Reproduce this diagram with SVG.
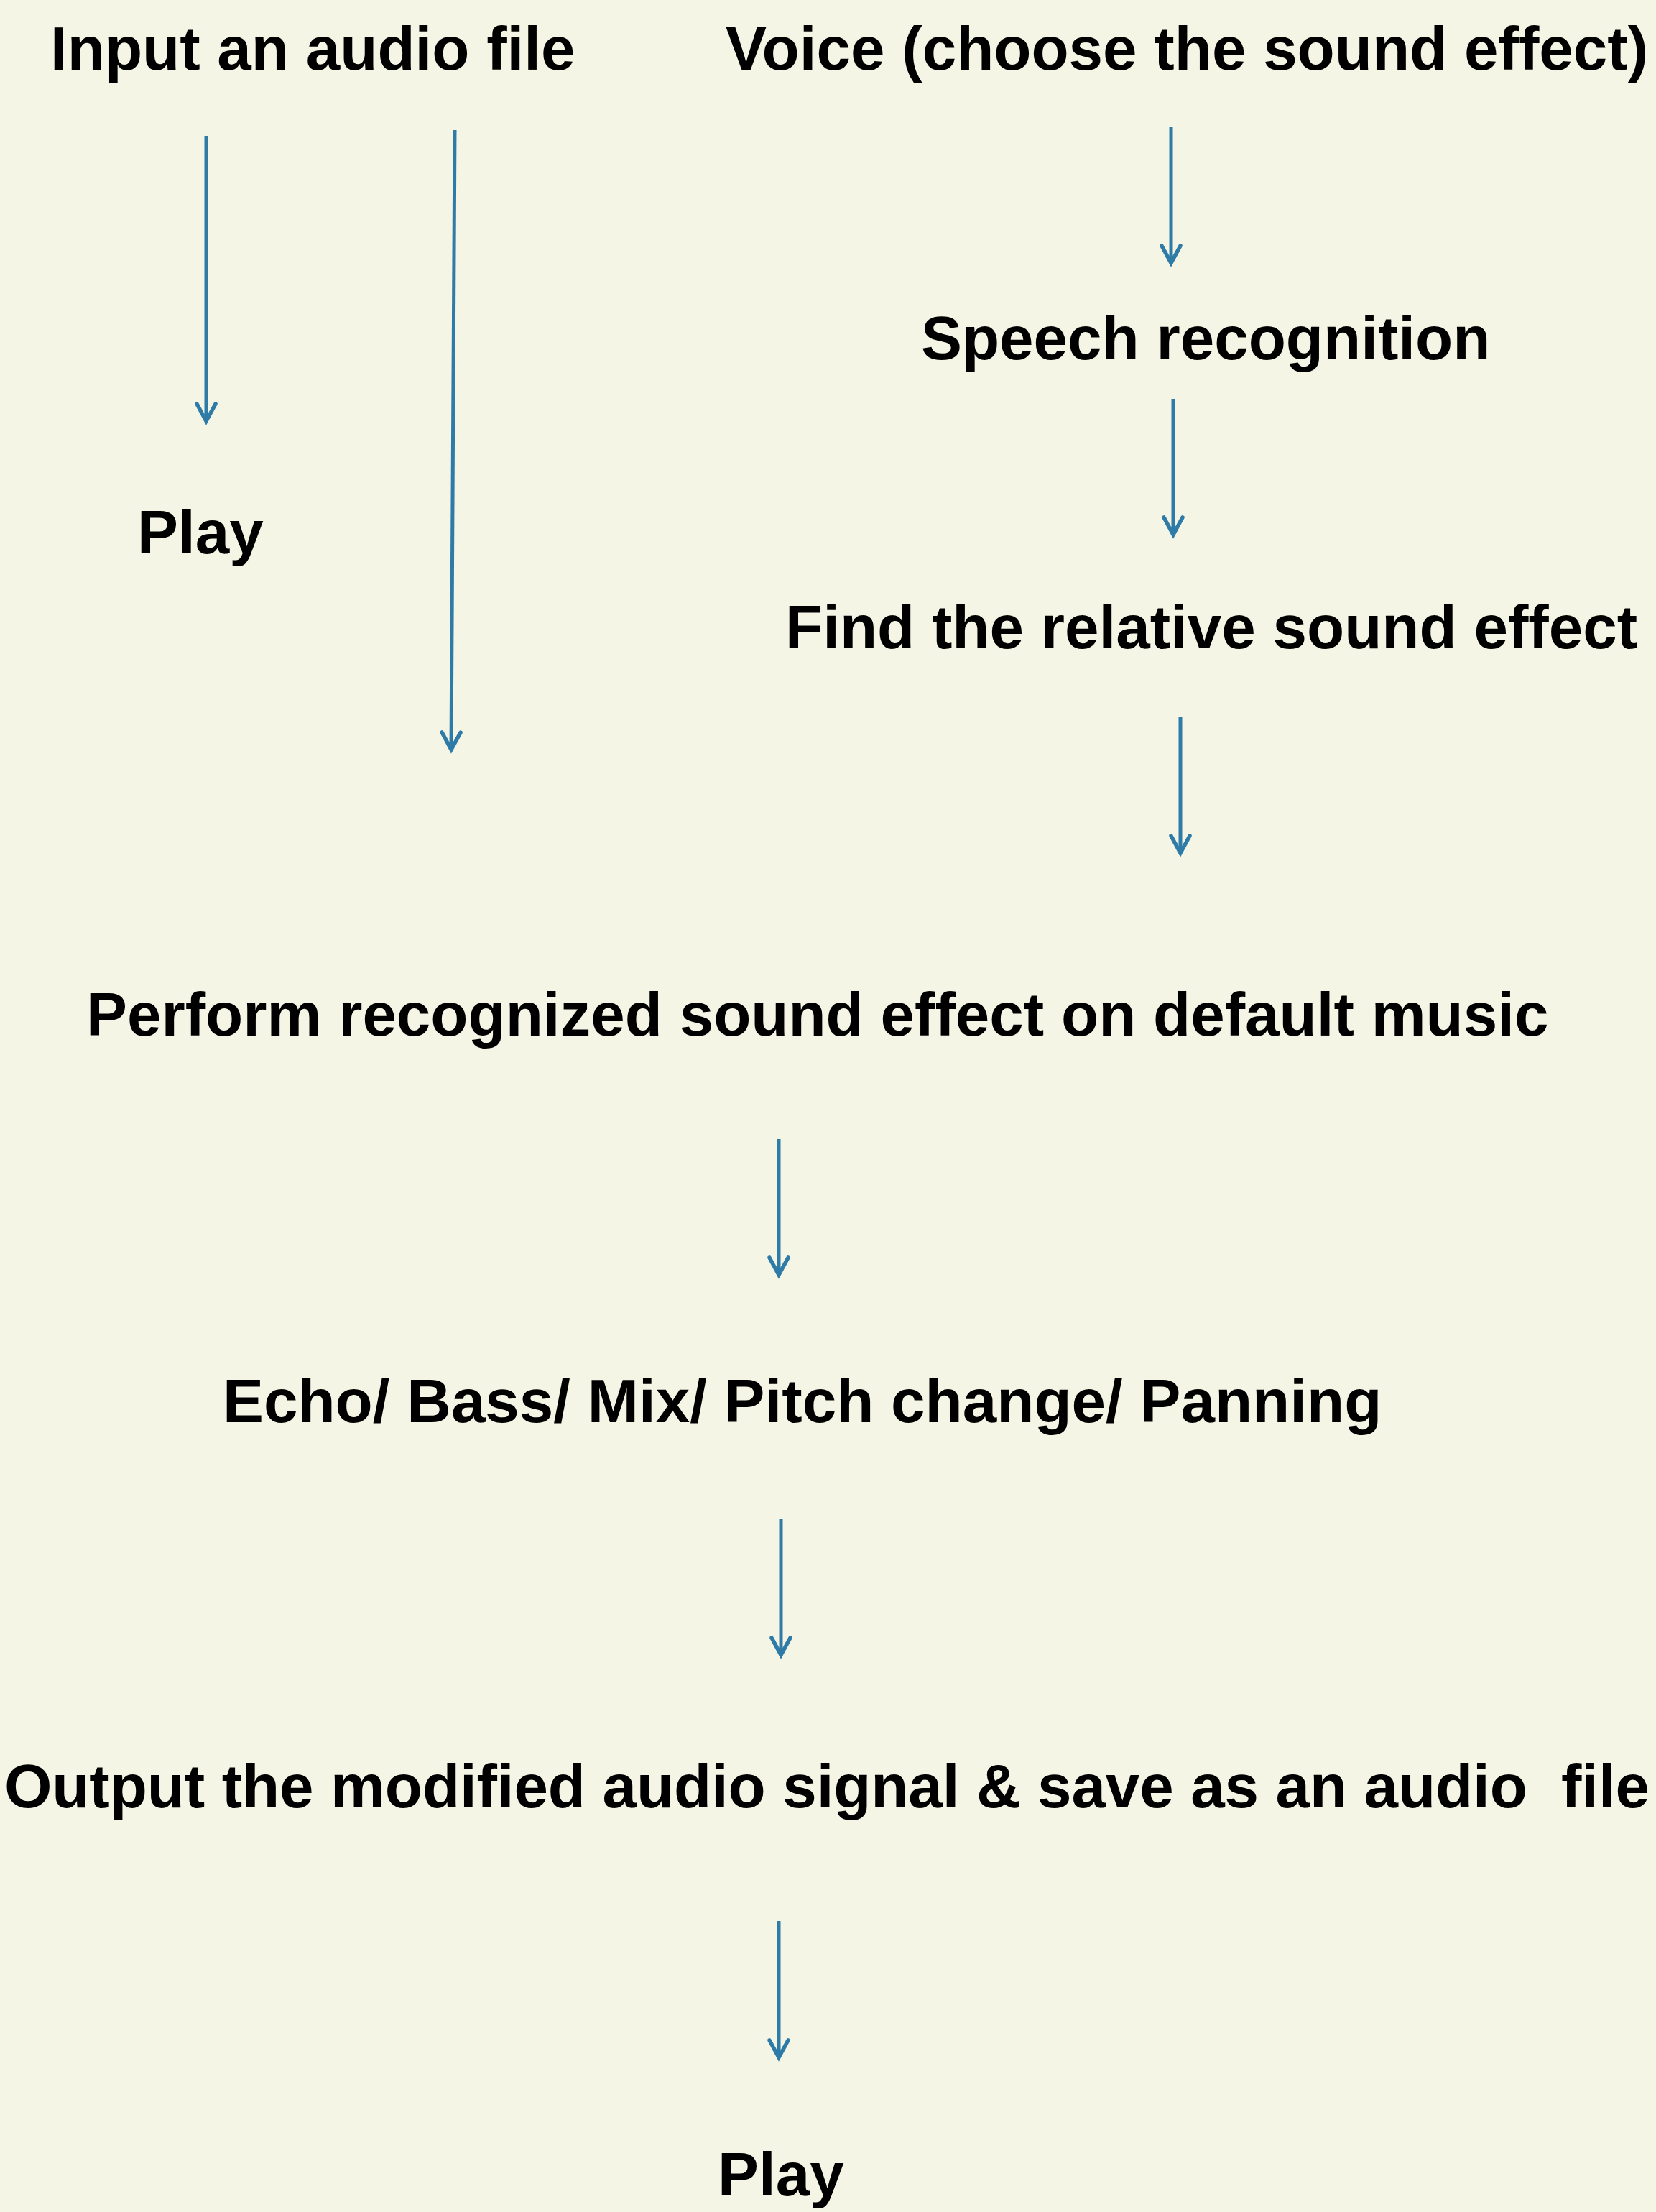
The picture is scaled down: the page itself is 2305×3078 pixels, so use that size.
<svg xmlns="http://www.w3.org/2000/svg" width="2305" height="3078" viewBox="0 0 2305 3078">
  <style>
    .lbl { font-family: "Liberation Sans", Arial, sans-serif; font-weight: bold; font-size: 85.4px; fill: #000000; white-space: pre; }
    .conn { stroke: #2E7BA7; stroke-width: 5; fill: none; marker-end: url(#arrow); }
  </style>
  <defs>
    <marker id="arrow" markerUnits="userSpaceOnUse" viewBox="-32 -20 40 40" markerWidth="40" markerHeight="40" refX="0" refY="0" orient="auto" overflow="visible">
      <path d="M-24,-13 L0,0 L-24,13" fill="none" stroke="#2E7BA7" stroke-width="5.5" stroke-linecap="round" stroke-linejoin="miter"/>
    </marker>
  </defs>
  <rect x="0" y="0" width="2305" height="3078" fill="#F5F5E5"/>

  <g id="connectors">
    <line class="conn" x1="287" y1="189" x2="287" y2="586"/>
    <line class="conn" x1="633" y1="181" x2="628" y2="1043"/>
    <line class="conn" x1="1630" y1="177" x2="1630" y2="366"/>
    <line class="conn" x1="1633" y1="555" x2="1633" y2="744"/>
    <line class="conn" x1="1643" y1="998" x2="1643" y2="1187"/>
    <line class="conn" x1="1084" y1="1585" x2="1084" y2="1774"/>
    <line class="conn" x1="1087" y1="2114" x2="1087" y2="2303"/>
    <line class="conn" x1="1084" y1="2673" x2="1084" y2="2863"/>
  </g>

  <g id="node-input"><text class="lbl" x="70" y="97">Input an audio file</text></g>
  <g id="node-voice"><text class="lbl" x="1010" y="97">Voice (choose the sound effect)</text></g>
  <g id="node-speech"><text class="lbl" x="1282" y="500">Speech recognition</text></g>
  <g id="node-play1"><text class="lbl" x="191" y="770">Play</text></g>
  <g id="node-find"><text class="lbl" x="1093" y="902">Find the relative sound effect</text></g>
  <g id="node-perform"><text class="lbl" x="120" y="1441">Perform recognized sound effect on default music</text></g>
  <g id="node-effects"><text class="lbl" x="310" y="1979">Echo/ Bass/ Mix/ Pitch change/ Panning</text></g>
  <g id="node-output"><text class="lbl" x="6" y="2515" textLength="2290" xml:space="preserve">Output the modified audio signal &amp; save as an audio  file</text></g>
  <g id="node-play2"><text class="lbl" x="999" y="3055">Play</text></g>
</svg>
